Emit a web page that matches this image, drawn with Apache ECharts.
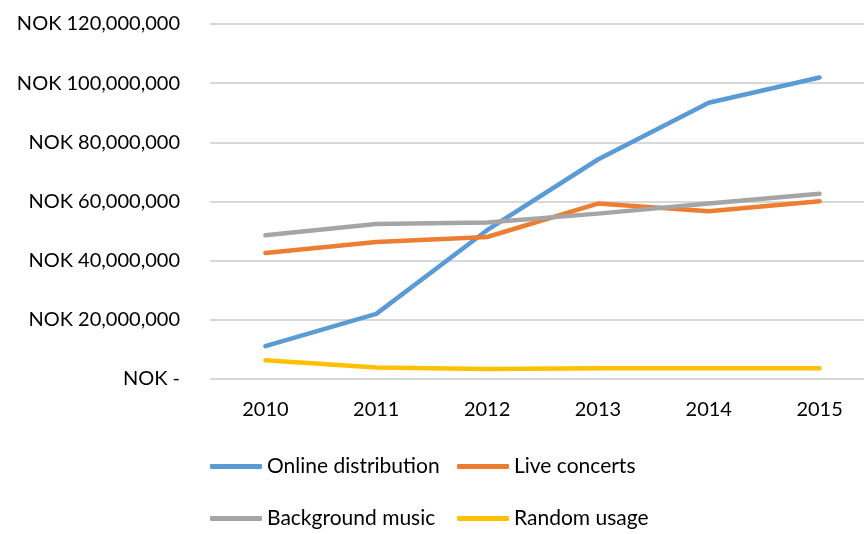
<!DOCTYPE html>
<html>
<head>
<meta charset="utf-8">
<script src="https://cdn.jsdelivr.net/npm/echarts@6/dist/echarts.min.js"></script>
<style>html,body{margin:0;padding:0;background:#fff}#c{width:864px;height:534px}</style>
</head>
<body>
<div id="c"></div>
<script>
var categories = ['2010', '2011', '2012', '2013', '2014', '2015'];
var onlineDistribution = [11.1e6, 22.0e6, 50.3e6, 74.2e6, 93.4e6, 101.9e6];
var liveConcerts = [42.6e6, 46.3e6, 48.0e6, 59.3e6, 56.7e6, 60.1e6];
var backgroundMusic = [48.6e6, 52.4e6, 52.9e6, 55.9e6, 59.3e6, 62.6e6];
var randomUsage = [6.3e6, 3.9e6, 3.4e6, 3.6e6, 3.6e6, 3.6e6];
var seriesNames = ['Online distribution', 'Live concerts', 'Background music', 'Random usage'];
var colors = ['#5B9BD5', '#ED7D31', '#A5A5A5', '#FFC000'];
var yTicks = [0, 20e6, 40e6, 60e6, 80e6, 100e6, 120e6];

var FONT = 'Lato, "Open Sans", sans-serif';
var chart = echarts.init(document.getElementById('c'));

function fmt(v) {
  if (v === 0) return 'NOK -';
  return 'NOK ' + Math.round(v).toString().replace(/\B(?=(\d{3})+(?!\d))/g, ',');
}

var allData = [onlineDistribution, liveConcerts, backgroundMusic, randomUsage];
var legendPos = [[210, 456], [457, 456], [210, 508], [457, 508]];

chart.setOption({
  backgroundColor: '#fff',
  animation: false,
  color: colors,
  grid: { left: 210, width: 665, top: 24, height: 355, containLabel: false, outerBoundsMode: 'none' },
  legend: seriesNames.map(function (n, i) {
    return {
      data: [n],
      left: legendPos[i][0],
      top: legendPos[i][1],
      padding: 0,
      icon: 'roundRect',
      itemWidth: 52,
      itemHeight: 5,
      itemGap: 0,
      textStyle: { fontFamily: FONT, fontSize: 21, color: '#000' }
    };
  }),
  xAxis: {
    type: 'category',
    data: categories,
    boundaryGap: true,
    axisLine: { show: false },
    axisTick: { show: false },
    axisLabel: { fontFamily: FONT, fontSize: 20, color: '#000', margin: 21 }
  },
  yAxis: {
    type: 'value',
    min: 0,
    max: 120e6,
    interval: 20e6,
    axisLine: { show: false },
    axisTick: { show: false },
    splitLine: { lineStyle: { color: '#D9D9D9', width: 2 } },
    axisLabel: { fontFamily: FONT, fontSize: 20, color: '#000', margin: 30, formatter: fmt }
  },
  series: seriesNames.map(function (n, i) {
    return {
      name: n,
      type: 'line',
      data: allData[i],
      showSymbol: false,
      symbol: 'none',
      lineStyle: { width: 4.5, color: colors[i], cap: 'round', join: 'round' },
      itemStyle: { color: colors[i] }
    };
  })
});
</script>
</body>
</html>
